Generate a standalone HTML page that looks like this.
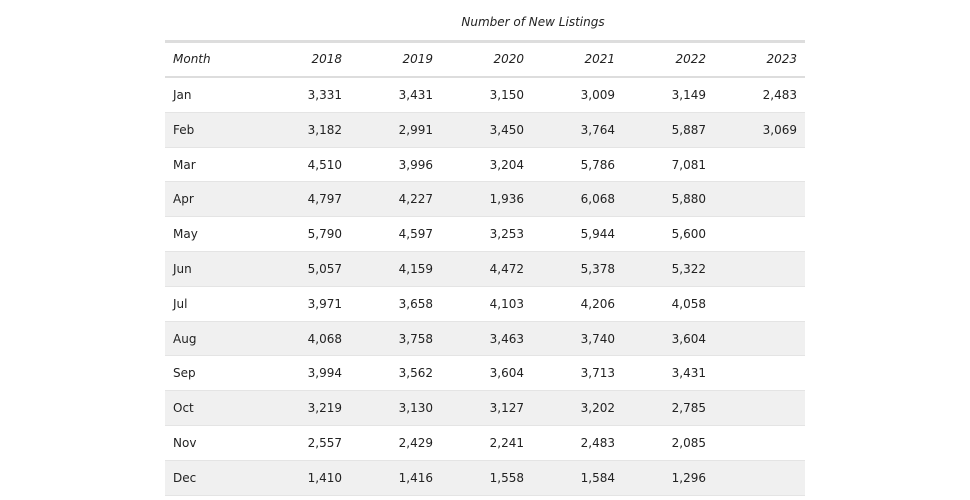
<!DOCTYPE html>
<html><head><meta charset="utf-8"><style>
body{margin:0;width:970px;height:500px;background:#fff;font-family:"DejaVu Sans","Liberation Sans",sans-serif;font-size:12px;color:#222;position:relative;overflow:hidden}
.t{position:absolute;white-space:nowrap}
.row{position:absolute;left:165px;width:640px;box-sizing:border-box}
</style></head><body>
<div class="t" style="left:165px;width:736px;top:15px;text-align:center;font-style:italic">Number of New Listings</div>
<div id="tbl"></div>
<script>
const months=["Jan","Feb","Mar","Apr","May","Jun","Jul","Aug","Sep","Oct","Nov","Dec"];
const years=["2018","2019","2020","2021","2022","2023"];
const v2018=["3,331","3,182","4,510","4,797","5,790","5,057","3,971","4,068","3,994","3,219","2,557","1,410"];
const v2019=["3,431","2,991","3,996","4,227","4,597","4,159","3,658","3,758","3,562","3,130","2,429","1,416"];
const v2020=["3,150","3,450","3,204","1,936","3,253","4,472","4,103","3,463","3,604","3,127","2,241","1,558"];
const v2021=["3,009","3,764","5,786","6,068","5,944","5,378","4,206","3,740","3,713","3,202","2,483","1,584"];
const v2022=["3,149","5,887","7,081","5,880","5,600","5,322","4,058","3,604","3,431","2,785","2,085","1,296"];
const v2023=["2,483","3,069","","","","","","","","","",""];
const cols=[v2018,v2019,v2020,v2021,v2022,v2023];
const rights=[342,433,524,615,706,797];
const tbl=document.getElementById('tbl');
function txt(s,x,y,right,italic){const d=document.createElement('div');d.className='t';d.textContent=s;
 d.style.top=(y-8)+'px';
 if(right){d.style.right=(970-x)+'px';}else d.style.left=x+'px';
 if(italic)d.style.fontStyle='italic';tbl.appendChild(d);return d;}
const hb=document.createElement('div');hb.className='row';


hb.style.top='40px';hb.style.height='38px';hb.style.borderTop='3px solid #ddd';hb.style.borderBottom='2px solid #ddd';tbl.appendChild(hb);
let h=txt('Month',173,60,false,true);


years.forEach((y,i)=>{const e=txt(y,rights[i],60,true,true);
 
 });
const rowH=34.8,top0=78;
months.forEach((m,r)=>{
 const rw=document.createElement('div');rw.className='row';
 
 
 rw.style.top=(top0+r*rowH)+'px';rw.style.height=rowH+'px';
 rw.style.background=r%2?'#f0f0f0':'#fff';rw.style.borderBottom='1px solid #e4e4e4';
 tbl.appendChild(rw);
 const cy=top0+r*rowH+18;
 const mc=txt(m,173,cy,false,false);
 
 
 cols.forEach((c,i)=>{if(c[r]){const e=txt(c[r],rights[i],cy,true,false);
  
  }});
});
</script>
</body></html>
